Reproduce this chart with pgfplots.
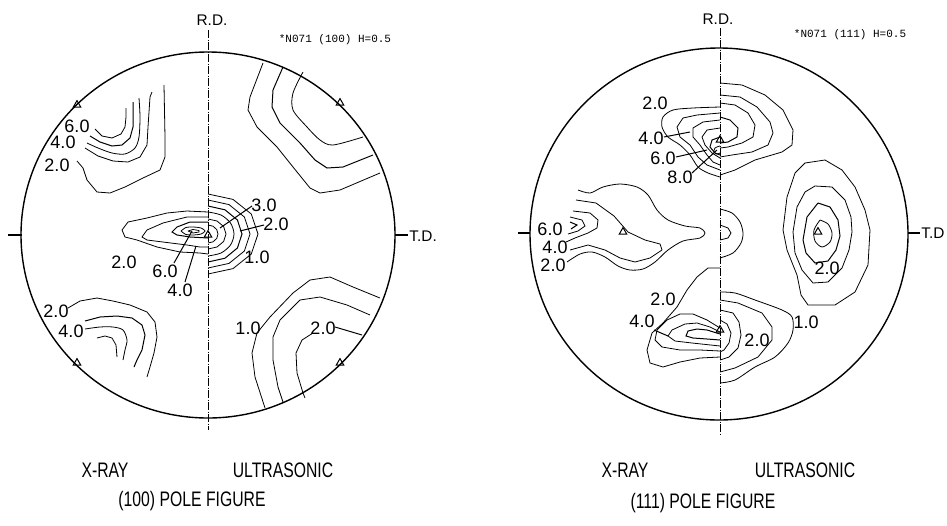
\documentclass[border=0pt]{standalone}
\usepackage{pgfplots}
\pgfplotsset{compat=1.18}
\usepackage{fontspec}
\setmainfont{Liberation Sans}
\newfontfamily\capfont[FakeStretch=0.75]{Liberation Sans}
\newfontfamily\hdrfont{Liberation Mono}
\begin{document}
\begin{tikzpicture}[
  mylbl/.style={font=\fontsize{9}{9}\selectfont, inner sep=0pt},
  mycap/.style={font=\capfont\fontsize{10.5}{10.5}\selectfont, inner sep=0pt},
  myrd/.style={font=\fontsize{7.7}{7.7}\selectfont, inner sep=0pt},
  myhdr/.style={font=\hdrfont\fontsize{5.5}{5.5}\selectfont, inner sep=0pt},
  mychain/.style={line width=0.45pt, dash pattern=on 4pt off 0.8pt on 0.4pt off 0.8pt},
]
\begin{axis}[
  scale only axis, width=473.5pt, height=262.5pt,
  xmin=0, xmax=947, ymin=0, ymax=525, y dir=reverse,
  hide axis, clip=false,
  cycle list={{black, line width=0.5pt, smooth, tension=0.55, mark=none}},
]
\path (rel axis cs:0,0) rectangle (rel axis cs:1,1);

% ===================== LEFT: (100) POLE FIGURE =====================
\draw[line width=0.7pt] (axis cs:208,235) ellipse [x radius=93.5pt, y radius=91.5pt];
\draw[mychain] (axis cs:208,30) -- (axis cs:208,430);
\draw[line width=0.6pt] (axis cs:8,235) -- (axis cs:22,235);
\draw[line width=0.6pt] (axis cs:395,235) -- (axis cs:408,235);
\node[myrd] at (axis cs:212,20) {R.D.};
\node[myrd, anchor=west] at (axis cs:409,236) {T.D.};
\node[myhdr] at (axis cs:335,40) {*N071 (100) H=0.5};

% X-ray, upper left
\addplot coordinates {(95,129) (102,136) (112,138) (121,134) (125,127) (126,117) (126,108)};
\addplot coordinates {(90,136) (100,142) (112,146) (122,145) (130,138) (133,127) (133,113) (133,102)};
\addplot coordinates {(87,143) (98,148) (112,153) (125,154) (135,148) (139,137) (140,117) (139,98)};
\addplot coordinates {(85,148) (98,156) (113,161) (128,162) (140,157) (147,145) (148,127) (150,97) (152,92)};
\addplot coordinates {(77,161) (83,168) (87,180) (97,192) (110,193) (125,187) (143,178) (160,170) (165,157) (165,137) (164,85)};
\node[mylbl] at (axis cs:77,126) {6.0};
\node[mylbl] at (axis cs:63,142) {4.0};
\node[mylbl] at (axis cs:57,165) {2.0};

% X-ray, lower left
\addplot coordinates {(68,308) (80,301) (97,298) (113,301) (130,305) (147,312) (155,322) (157,337) (154,353) (150,367) (147,377)};
\addplot coordinates {(85,321) (100,317) (117,316) (132,318) (142,325) (145,335) (142,350) (137,360) (134,367)};
\addplot coordinates {(85,329) (100,327) (113,327) (123,330) (127,340) (125,350) (123,360)};
\addplot coordinates {(97,338) (105,336) (112,338) (116,345) (117,357)};
\node[mylbl] at (axis cs:56,311) {2.0};
\node[mylbl] at (axis cs:71,331) {4.0};

% X-ray, centre
\addplot coordinates {(208,212) (187,211) (167,213) (147,218) (128,222) (122,230) (125,237) (137,240) (157,247) (180,252) (200,253) (208,254)};
\addplot coordinates {(208,217) (187,217) (163,223) (147,230) (142,237) (147,240) (163,242) (187,245) (200,247) (208,247)};
\addplot coordinates {(208,222) (190,222) (177,227) (172,232) (177,235) (190,237) (208,238)};
\addplot coordinates {(181,231) (186,227.5) (193,227) (201,228) (205,231) (201,234) (193,235) (186,234.5) (181,231)};
\addplot coordinates {(188,231) (193,229.5) (199,230.5) (199,232) (193,233) (188,231)};
\node[mylbl] at (axis cs:124,262) {2.0};
\node[mylbl] at (axis cs:165,271) {6.0};
\node[mylbl] at (axis cs:180,290) {4.0};
\draw[line width=0.5pt] (axis cs:174,263) -- (axis cs:192,231);
\draw[line width=0.5pt] (axis cs:185,282) -- (axis cs:196,246);

% Ultrasonic, centre
\addplot coordinates {(208,194) (233,199.4) (251.3,214) (258,234) (251.3,254) (233,268.6) (208,274)};
\addplot coordinates {(208,200) (229,204.6) (244.4,217) (250,234) (244.4,251) (229,263.4) (208,268)};
\addplot coordinates {(208,206) (225,209.8) (237.4,220) (242,234) (237.4,248) (225,258.2) (208,262)};
\addplot coordinates {(208,212) (221,215) (230.5,223) (234,234) (230.5,245) (221,253) (208,256)};
\addplot coordinates {(208,219) (217,221) (223.6,226.5) (226,234) (223.6,241.5) (217,247) (208,249)};
\addplot coordinates {(208,225) (213,226.2) (216.7,229.5) (218,234) (216.7,238.5) (213,241.8) (208,243)};
\node[mylbl] at (axis cs:264,205) {3.0};
\node[mylbl] at (axis cs:276,224) {2.0};
\node[mylbl] at (axis cs:257,257) {1.0};
\draw[line width=0.5pt] (axis cs:220,228) -- (axis cs:252,206);
\draw[line width=0.5pt] (axis cs:240,231) -- (axis cs:264,225);

% Ultrasonic, upper right
\addplot coordinates {(263,63) (250,97) (248,110) (257,127) (277,147) (293,167) (310,188) (320,193) (340,190) (380,173)};
\addplot coordinates {(283,67) (273,90) (272,107) (280,123) (300,143) (315,160) (327,168) (343,167) (373,155)};
\addplot coordinates {(303,72) (293,93) (293,110) (307,127) (320,140) (333,145) (363,137)};

% Ultrasonic, lower right
\addplot coordinates {(380,298) (353,287) (330,277) (310,280) (293,293) (270,317) (257,333) (252,353) (255,377) (265,408)};
\addplot coordinates {(370,315) (347,305) (320,297) (300,300) (280,320) (273,337) (273,360) (278,387) (283,402)};
\addplot coordinates {(313,333) (302,340) (296,353) (297,373) (303,393) (305,398)};
\draw[line width=0.5pt] (axis cs:335,327) -- (axis cs:362,335);
\node[mylbl] at (axis cs:248,328) {1.0};
\node[mylbl] at (axis cs:323,328) {2.0};

\addplot[only marks, mark=triangle, mark size=2.2pt, mark options={line width=0.5pt, black}] coordinates {(77,105) (340,103) (77,363) (340,363) (208,235)};

\node[mycap] at (axis cs:105,470) {X-RAY};
\node[mycap] at (axis cs:283,470) {ULTRASONIC};
\node[mycap] at (axis cs:192,501) {(100) POLE FIGURE};

% ===================== RIGHT: (111) POLE FIGURE =====================
\draw[line width=0.7pt] (axis cs:719,234) ellipse [x radius=94.5pt, y radius=93pt];
\draw[mychain] (axis cs:720,28) -- (axis cs:720,435);
\draw[line width=0.6pt] (axis cs:518,233) -- (axis cs:530,233);
\draw[line width=0.6pt] (axis cs:908,233) -- (axis cs:920,233);
\node[myrd] at (axis cs:718,19) {R.D.};
\node[myrd, anchor=west] at (axis cs:921,233) {T.D};
\node[myhdr] at (axis cs:850,35) {*N071 (111) H=0.5};

% X-ray, top
\addplot coordinates {(720,107) (693,108) (673,110) (663,117) (662,127) (668,137) (680,145) (690,155) (698,167) (708,173) (720,177)};
\addplot coordinates {(720,113) (697,115) (683,118) (677,127) (680,137) (690,145) (698,157) (707,165) (720,170)};
\addplot coordinates {(720,120) (703,122) (693,128) (693,137) (700,145) (707,155) (713,162) (720,165)};
\addplot coordinates {(720,128) (707,130) (702,137) (705,145) (712,153) (720,158)};
\addplot coordinates {(720,137) (712,140) (710,147) (715,153) (720,155)};
\addplot coordinates {(720,146) (715,148) (714,152) (717,154) (720,153)};
\node[mylbl] at (axis cs:655,103) {2.0};
\node[mylbl] at (axis cs:651,138) {4.0};
\node[mylbl] at (axis cs:663,158) {6.0};
\node[mylbl] at (axis cs:680,177) {8.0};
\draw[line width=0.5pt] (axis cs:664,137) -- (axis cs:690,132);
\draw[line width=0.5pt] (axis cs:676,157) -- (axis cs:707,150);
\draw[line width=0.5pt] (axis cs:692,173) -- (axis cs:717,150);

% Ultrasonic, top
\addplot coordinates {(720,83) (742,85) (765,95) (783,110) (793,130) (792,145) (782,152) (755,160) (735,170) (720,175)};
\addplot coordinates {(720,95) (740,97) (757,107) (770,122) (773,133) (768,145) (752,152) (732,155) (720,157)};
\addplot coordinates {(720,103) (735,105) (748,113) (755,125) (753,137) (742,143) (728,147) (720,148)};
\addplot coordinates {(720,117) (730,120) (738,128) (737,137) (728,142) (720,143)};

% X-ray, left
\addplot coordinates {(578,190) (590,193) (603,187) (620,184) (637,187) (648,195) (657,210) (668,220) (685,226) (700,228) (705,233) (700,238) (683,241) (668,250) (655,262) (643,269) (630,270) (618,266) (605,257) (592,252) (580,254) (567,262)};
\addplot coordinates {(576,200) (596,203) (614,216) (628,232) (645,240) (660,244) (662,250) (650,258) (635,262) (620,258) (605,250) (588,245) (570,250)};
\addplot coordinates {(573,211) (590,213) (598,220) (597,228) (588,233) (575,238) (566,242)};
\addplot coordinates {(570,217) (582,220) (585,226) (578,231) (568,234)};
\addplot coordinates {(570,222) (577,225) (571,229)};
\node[mylbl] at (axis cs:550,229) {6.0};
\node[mylbl] at (axis cs:555,247) {4.0};
\node[mylbl] at (axis cs:553,265) {2.0};

% Ultrasonic, centre small
\addplot coordinates {(720,209) (732,213) (740,222) (743,233) (741,243) (733,253) (720,258)};
\addplot coordinates {(720,225) (728,228) (731,233) (728,238) (720,240)};

% Ultrasonic, right rings
\addplot coordinates {(805,163) (825,160) (842,170) (855,187) (865,210) (870,230) (868,265) (855,292) (835,305) (808,305) (801,295) (797,275) (787,250) (783,230) (787,197) (795,173) (805,163)};
\addplot coordinates {(815,186) (832,187) (845,200) (851,217) (852,232) (849,250) (842,268) (828,282) (813,283) (802,270) (795,253) (793,232) (797,207) (805,192) (815,186)};
\addplot coordinates {(818,203) (830,207) (838,220) (840,236) (836,250) (828,261) (815,263) (806,253) (803,240) (807,217) (818,203)};
\addplot coordinates {(820,220) (828,224) (832,233) (830,242) (822,247) (815,241) (814,230) (820,220)};
\node[mylbl] at (axis cs:827,268) {2.0};

% X-ray, lower
\addplot coordinates {(720,268) (708,268) (697,277) (687,290) (677,307) (663,323) (652,333) (647,350) (650,363) (663,367) (680,362) (700,358) (720,357)};
\addplot coordinates {(720,328) (707,320) (693,314) (680,314) (667,320) (657,330) (655,340) (662,347) (680,350) (700,350) (720,351)};
\addplot coordinates {(720,332) (710,327) (697,323) (685,324) (672,330) (668,336) (675,341) (692,343) (720,346)};
\addplot coordinates {(720,334) (707,330) (697,329) (688,331) (686,336) (693,338) (707,339) (720,340)};
\node[mylbl] at (axis cs:663,299) {2.0};
\node[mylbl] at (axis cs:642,321) {4.0};
\draw[line width=0.5pt] (axis cs:654,330) -- (axis cs:668,336);

% Ultrasonic, lower
\addplot coordinates {(720,292) (735,293) (755,300) (782,310) (792,317) (793,330) (788,343) (775,357) (755,367) (735,380) (720,383)};
\addplot coordinates {(720,300) (738,303) (762,313) (772,327) (772,340) (758,357) (735,368) (720,372)};
\addplot coordinates {(720,310) (733,313) (739,322) (741,335) (738,348) (729,357) (720,360)};
\addplot coordinates {(720,320) (727,324) (731,333) (729,343) (724,350) (720,352)};
\node[mylbl] at (axis cs:806,322) {1.0};
\node[mylbl] at (axis cs:757,340) {2.0};

\addplot[only marks, mark=triangle, mark size=2.2pt, mark options={line width=0.5pt, black}] coordinates {(720,140) (623,232) (818,232) (720,330)};

\node[mycap] at (axis cs:625,470) {X-RAY};
\node[mycap] at (axis cs:805,470) {ULTRASONIC};
\node[mycap] at (axis cs:703,503) {(111) POLE FIGURE};
\end{axis}
\end{tikzpicture}
\end{document}
